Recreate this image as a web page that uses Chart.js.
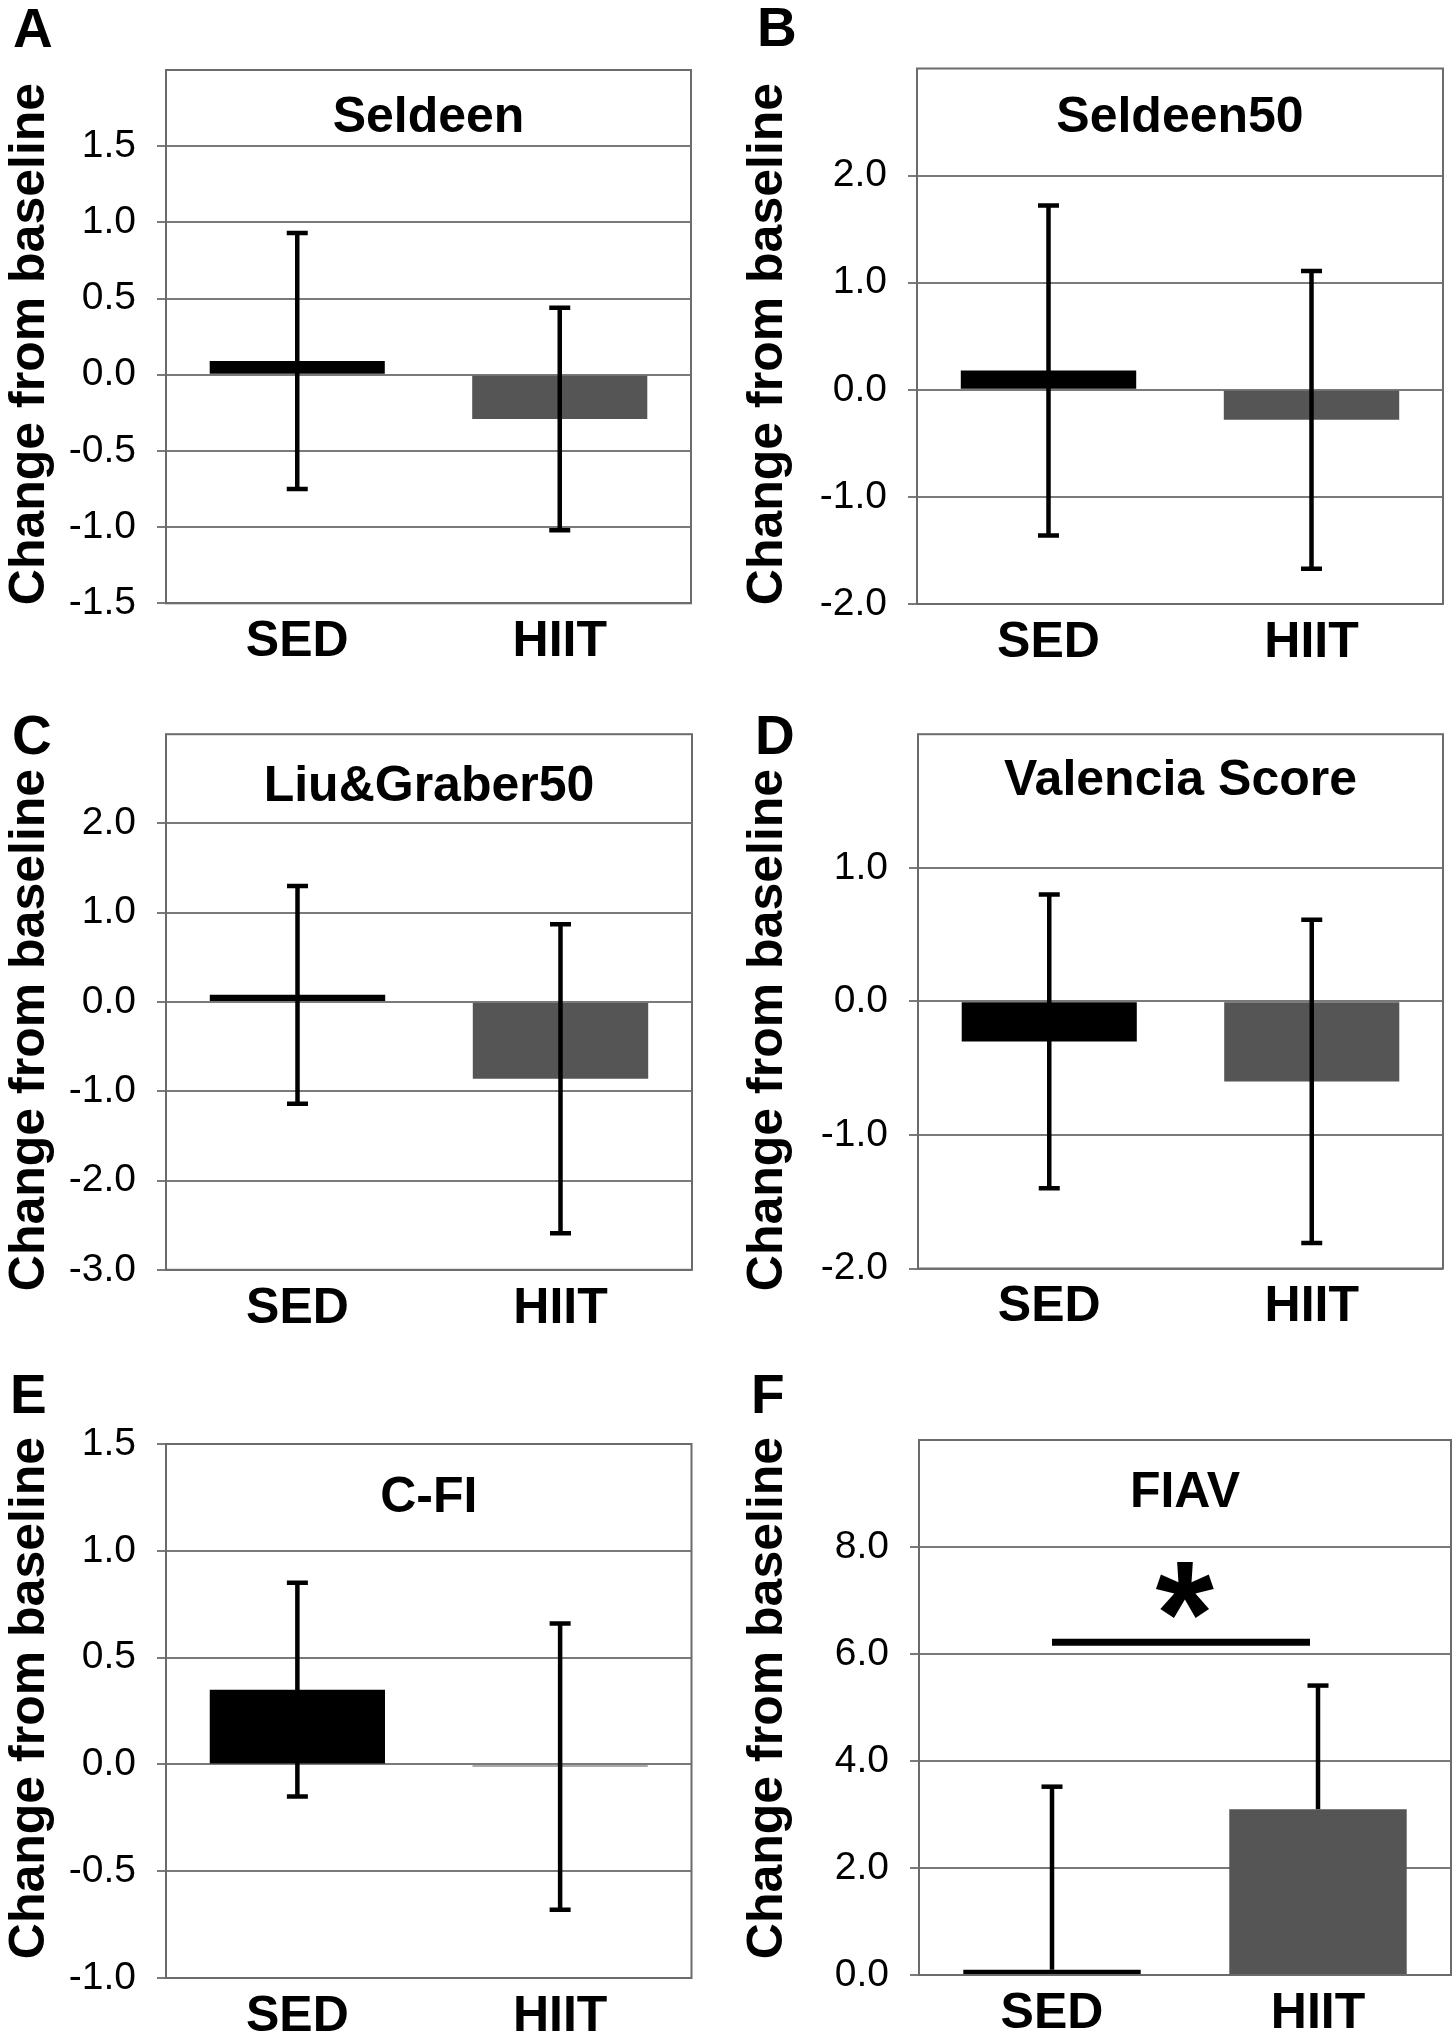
<!DOCTYPE html>
<html>
<head>
<meta charset="utf-8">
<script src="https://cdn.jsdelivr.net/npm/chart.js@4.4.1/dist/chart.umd.min.js"></script>
<style>
  html, body { margin: 0; padding: 0; background: #ffffff; }
  body { width: 1455px; height: 2040px; position: relative; overflow: hidden; }
  canvas { position: absolute; }
</style>
</head>
<body>
<canvas id="cA" width="727" height="680" style="left:0px;top:0px"></canvas>
<canvas id="cB" width="717" height="680" style="left:738px;top:0px"></canvas>
<canvas id="cC" width="727" height="680" style="left:0px;top:680px"></canvas>
<canvas id="cD" width="717" height="680" style="left:738px;top:680px"></canvas>
<canvas id="cE" width="727" height="680" style="left:0px;top:1360px"></canvas>
<canvas id="cF" width="717" height="680" style="left:738px;top:1360px"></canvas>
<script>
// ---------------- data ----------------
const categories = ['SED', 'HIIT'];
const yAxisTitle = 'Change from baseline';
const panelLetters = ['A', 'B', 'C', 'D', 'E', 'F'];
const panelTitles = ['Seldeen', 'Seldeen50', 'Liu&Graber50', 'Valencia Score', 'C-FI', 'FIAV'];

const seldeenMean = [0.09, -0.29];
const seldeenSD = [0.84, 0.73];
const seldeen50Mean = [0.18, -0.28];
const seldeen50SD = [1.54, 1.39];
const liuGraber50Mean = [0.08, -0.86];
const liuGraber50SD = [1.22, 1.73];
const valenciaMean = [-0.30, -0.60];
const valenciaSD = [1.10, 1.21];
const cfiMean = [0.35, -0.01];
const cfiSD = [0.50, 0.67];
const fiavMean = [0.10, 3.10];
const fiavSD = [3.42, 2.31];

const seldeenTicks = [-1.5, -1.0, -0.5, 0.0, 0.5, 1.0, 1.5];
const seldeen50Ticks = [-2.0, -1.0, 0.0, 1.0, 2.0];
const liuGraber50Ticks = [-3.0, -2.0, -1.0, 0.0, 1.0, 2.0];
const valenciaTicks = [-2.0, -1.0, 0.0, 1.0];
const cfiTicks = [-1.0, -0.5, 0.0, 0.5, 1.0, 1.5];
const fiavTicks = [0.0, 2.0, 4.0, 6.0, 8.0];

const seldeenRange = [-1.5, 2.0];
const seldeen50Range = [-2.0, 3.0];
const liuGraber50Range = [-3.0, 3.0];
const valenciaRange = [-2.0, 2.0];
const cfiRange = [-1.0, 1.5];
const fiavRange = [0.0, 10.0];

const fiavSignificance = { from: 'SED', to: 'HIIT', lineY: 6.22, mark: '*', markY: 7.18 };

// ---------------- styling / layout ----------------
const FONT = '"Liberation Sans", Arial, Helvetica, sans-serif';
const barColors = ['#000000', '#555555'];
const gridColor = '#7a7a7a';
const boxColor = '#6b6b6b';
const X_AXIS_H = 62;

const panelPlugin = {
  id: 'panel',
  afterDatasetsDraw(chart, args, o) {
    const { ctx, chartArea: a, scales: { x, y } } = chart;
    ctx.save();
    ctx.beginPath();
    ctx.rect(a.left, a.top, a.right - a.left, a.bottom - a.top);
    ctx.clip();
    ctx.strokeStyle = '#000';
    ctx.lineWidth = 4.5;
    ctx.lineCap = 'butt';
    o.means.forEach((m, i) => {
      const cx = x.getPixelForValue(i);
      const yHi = y.getPixelForValue(m + o.sds[i]);
      const yLo = y.getPixelForValue(o.plusOnly ? m : m - o.sds[i]);
      ctx.beginPath(); ctx.moveTo(cx, yHi); ctx.lineTo(cx, yLo); ctx.stroke();
      const caps = o.plusOnly ? [yHi] : [yHi, yLo];
      caps.forEach(cy => {
        ctx.beginPath(); ctx.moveTo(cx - 10.5, cy); ctx.lineTo(cx + 10.5, cy); ctx.stroke();
      });
    });
    ctx.restore();
  },
  afterDraw(chart, args, o) {
    const { ctx, chartArea: a, scales: { x, y } } = chart;
    ctx.save();
    ctx.strokeStyle = boxColor;
    ctx.lineWidth = 2;
    ctx.strokeRect(a.left, a.top, a.right - a.left, a.bottom - a.top);
    ctx.fillStyle = '#000';
    // panel title inside the box
    ctx.font = 'bold 50px ' + FONT;
    ctx.textAlign = 'center';
    ctx.textBaseline = 'alphabetic';
    ctx.fillText(o.title, (a.left + a.right) / 2, a.top + o.titleOffset);
    // y axis title (rotated)
    ctx.save();
    ctx.translate(o.yTitleX, o.yTitleCenter);
    ctx.rotate(-Math.PI / 2);
    ctx.font = 'bold 50px ' + FONT;
    ctx.textAlign = 'center';
    ctx.fillText(o.yTitle, 0, 0);
    ctx.restore();
    // panel letter
    ctx.textAlign = 'left';
    ctx.font = 'bold 55px ' + FONT;
    ctx.fillText(o.letter, o.letterX, o.letterY);
    // significance marker
    if (o.sig) {
      const x0 = x.getPixelForValue(categories.indexOf(o.sig.from));
      const x1 = x.getPixelForValue(categories.indexOf(o.sig.to));
      const ly = y.getPixelForValue(o.sig.lineY);
      ctx.strokeStyle = '#000';
      ctx.lineWidth = 7;
      ctx.beginPath(); ctx.moveTo(x0, ly); ctx.lineTo(x1 - 8, ly); ctx.stroke();
      ctx.font = 'bold 150px ' + FONT;
      const mt = ctx.measureText(o.sig.mark);
      const cx = (x0 + x1) / 2;
      const cy = y.getPixelForValue(o.sig.markY);
      ctx.fillText(o.sig.mark,
        cx - (mt.actualBoundingBoxRight - mt.actualBoundingBoxLeft) / 2,
        cy + (mt.actualBoundingBoxAscent - mt.actualBoundingBoxDescent) / 2);
    }
    ctx.restore();
  }
};

function makePanel(id, p) {
  new Chart(document.getElementById(id), {
    type: 'bar',
    data: {
      labels: categories,
      datasets: [{
        data: p.means,
        backgroundColor: barColors,
        borderWidth: 0,
        barPercentage: 0.667,
        categoryPercentage: 1.0
      }]
    },
    options: {
      responsive: false,
      animation: false,
      events: [],
      layout: { padding: { top: p.padTop, right: p.padRight, bottom: 680 - p.boxBottom - X_AXIS_H, left: 0 } },
      plugins: {
        legend: { display: false },
        tooltip: { enabled: false },
        panel: {
          means: p.means, sds: p.sds, plusOnly: !!p.plusOnly,
          title: p.title, titleOffset: p.titleOffset,
          letter: p.letter, letterX: p.letterX, letterY: p.letterY,
          yTitle: yAxisTitle, yTitleX: 44, yTitleCenter: p.yTitleCenter,
          sig: p.sig || null
        }
      },
      scales: {
        x: {
          grid: { display: false, drawTicks: false },
          border: { display: false },
          ticks: { color: '#000', padding: 9, font: { family: FONT, size: 50, weight: 'bold' } },
          afterFit: s => { s.height = X_AXIS_H; }
        },
        y: {
          min: p.range[0],
          max: p.range[1],
          grid: { color: gridColor, lineWidth: 2, tickLength: 9, drawTicks: true },
          border: { display: false },
          ticks: {
            color: '#000', padding: 21,
            font: { family: FONT, size: 39 },
            callback: v => Number(v).toFixed(1)
          },
          afterBuildTicks: s => { s.ticks = p.ticks.map(v => ({ value: v })); },
          afterFit: s => { s.width = p.yWidth; },
          title: { display: false }
        }
      }
    },
    plugins: [panelPlugin]
  });
}

makePanel('cA', { means: seldeenMean, sds: seldeenSD, ticks: seldeenTicks, range: seldeenRange,
  title: panelTitles[0], letter: panelLetters[0], letterX: 13, letterY: 47, titleOffset: 62,
  padTop: 70, padRight: 36, boxBottom: 603.3, yWidth: 166, yTitleCenter: 344 });
makePanel('cB', { means: seldeen50Mean, sds: seldeen50SD, ticks: seldeen50Ticks, range: seldeen50Range,
  title: panelTitles[1], letter: panelLetters[1], letterX: 19, letterY: 46, titleOffset: 63,
  padTop: 68.5, padRight: 12, boxBottom: 604, yWidth: 179, yTitleCenter: 344 });
makePanel('cC', { means: liuGraber50Mean, sds: liuGraber50SD, ticks: liuGraber50Ticks, range: liuGraber50Range,
  title: panelTitles[2], letter: panelLetters[2], letterX: 12, letterY: 74, titleOffset: 67,
  padTop: 54.2, padRight: 35, boxBottom: 589.8, yWidth: 166, yTitleCenter: 350 });
makePanel('cD', { means: valenciaMean, sds: valenciaSD, ticks: valenciaTicks, range: valenciaRange,
  title: panelTitles[3], letter: panelLetters[3], letterX: 17, letterY: 74, titleOffset: 61,
  padTop: 54.2, padRight: 12, boxBottom: 588.5, yWidth: 180, yTitleCenter: 350 });
makePanel('cE', { means: cfiMean, sds: cfiSD, ticks: cfiTicks, range: cfiRange,
  title: panelTitles[4], letter: panelLetters[4], letterX: 10, letterY: 53, titleOffset: 68,
  padTop: 84, padRight: 35.5, boxBottom: 618, yWidth: 166, yTitleCenter: 338 });
makePanel('cF', { means: fiavMean, sds: fiavSD, ticks: fiavTicks, range: fiavRange, plusOnly: true,
  sig: fiavSignificance,
  title: panelTitles[5], letter: panelLetters[5], letterX: 13, letterY: 53, titleOffset: 67,
  padTop: 80, padRight: 4, boxBottom: 615, yWidth: 181, yTitleCenter: 338 });
</script>
</body>
</html>
